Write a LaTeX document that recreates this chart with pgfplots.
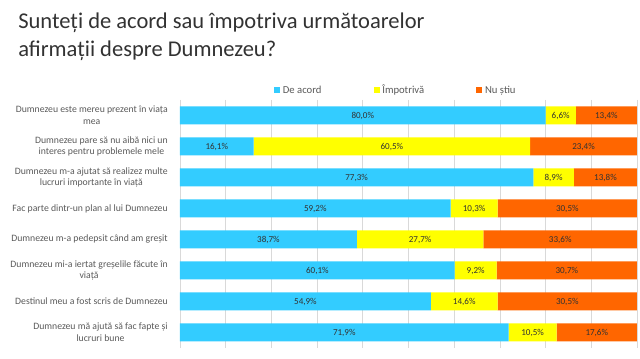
\documentclass[border=0pt]{standalone}
\usepackage{pgfplots}
\pgfplotsset{compat=1.18}
\usepackage{pgfplotstable}
\usepackage{fontspec}
\setmainfont{Carlito}
\definecolor{cblue}{RGB}{51,204,255}
\definecolor{cyellow}{RGB}{255,255,0}
\definecolor{corange}{RGB}{255,102,0}
\definecolor{ctext}{RGB}{89,89,89}
\definecolor{ctitle}{RGB}{50,50,50}
\definecolor{cgrid}{RGB}{217,217,217}
\pgfplotstableread{
row a b c
0 80.0 6.6 13.4
1 16.1 60.5 23.4
2 77.3 8.9 13.8
3 59.2 10.3 30.5
4 38.7 27.7 33.6
5 60.1 9.2 30.7
6 54.9 14.6 30.5
7 71.9 10.5 17.6
}\datatable
\begin{document}
\begin{tikzpicture}
\path[use as bounding box] (0,0) rectangle (480pt,269.25pt);
\node[anchor=base west, inner sep=0pt, font=\fontsize{16.9}{20}\selectfont, color=ctitle] at (13.5pt,247.5pt) {Sunteți de acord sau împotriva următoarelor};
\node[anchor=base west, inner sep=0pt, font=\fontsize{16.9}{20}\selectfont, color=ctitle] at (13.5pt,226.5pt) {afirmații despre Dumnezeu?};
\begin{axis}[
  at={(135pt,8.25pt)}, anchor=south west,
  scale only axis, width=342.75pt, height=186pt,
  xbar stacked, bar width=13.5pt,
  xmin=0, xmax=100, ymin=-0.5, ymax=7.5, y dir=reverse,
  axis line style={draw=none},
  xtick={0,10,...,100}, xticklabels={},
  xmajorgrids, grid style={cgrid, line width=0.5pt},
  major tick length=0pt,
  ytick={0,...,7},
  yticklabels={
    {Dumnezeu este mereu prezent în viața\\mea},
    {Dumnezeu pare să nu aibă nici un\\interes pentru problemele mele},
    {Dumnezeu m-a ajutat să realizez multe\\lucruri importante în viață},
    {Fac parte dintr-un plan al lui Dumnezeu},
    {Dumnezeu m-a pedepsit când am greșit},
    {Dumnezeu mi-a iertat greșelile făcute în\\viață},
    {Destinul meu a fost scris de Dumnezeu},
    {Dumnezeu mă ajută să fac fapte și\\lucruri bune}},
  yticklabel style={align=center, font=\fontsize{7.3}{8.8}\selectfont, color=ctext, inner sep=0pt, xshift=-9pt},
  legend columns=3,
  legend style={at={(0.473,1.04)}, anchor=center, draw=none, fill=none,
    font=\fontsize{8}{9.6}\selectfont, text=ctext,
    nodes={text height=6pt, text depth=1.5pt},
    /tikz/every even column/.append style={column sep=37pt}},
  legend image code/.code={\fill[#1] (0pt,-2.3pt) rectangle (4.6pt,2.3pt);},
]
\addplot[fill=cblue, draw=none] table[x=a, y=row] {\datatable};
\addplot[fill=cyellow, draw=none] table[x=b, y=row] {\datatable};
\addplot[fill=corange, draw=none] table[x=c, y=row] {\datatable};
\legend{De acord, Împotrivă, Nu știu}
\end{axis}
\begin{axis}[
  at={(135pt,8.25pt)}, anchor=south west,
  scale only axis, width=342.75pt, height=186pt,
  xmin=0, xmax=100, ymin=-0.5, ymax=7.5, y dir=reverse,
  hide axis,
  nodes near coords={\pgfmathprintnumber[fixed, fixed zerofill, precision=1, use comma, assume math mode=true]{\pgfplotspointmeta}\%},
  every node near coord/.append style={anchor=center, font=\fontsize{6.8}{8}\selectfont, text=ctitle},
]
\addplot[draw=none, mark=none, point meta=explicit] table[x expr=\thisrow{a}/2, y=row, meta=a] {\datatable};
\addplot[draw=none, mark=none, point meta=explicit] table[x expr=\thisrow{a}+\thisrow{b}/2, y=row, meta=b] {\datatable};
\addplot[draw=none, mark=none, point meta=explicit] table[x expr=\thisrow{a}+\thisrow{b}+\thisrow{c}/2, y=row, meta=c] {\datatable};
\end{axis}
\end{tikzpicture}
\end{document}
